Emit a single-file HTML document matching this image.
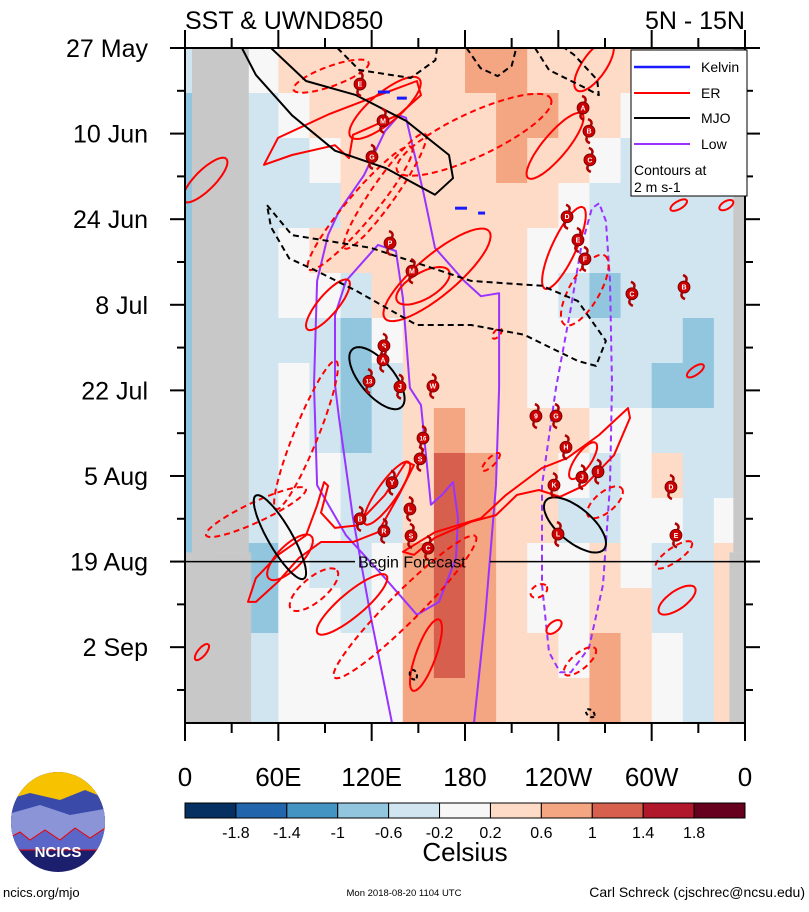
<!DOCTYPE html>
<html><head><meta charset="utf-8">
<style>
html,body{margin:0;padding:0;background:#fff;}
body{width:809px;height:907px;overflow:hidden;font-family:"Liberation Sans",sans-serif;}
svg text{font-family:"Liberation Sans",sans-serif;}
</style></head>
<body>
<svg id="chart" width="809" height="907" viewBox="0 0 809 907" xmlns="http://www.w3.org/2000/svg">
  <rect width="809" height="907" fill="#fff"/>
  <text x="185" y="29" font-size="25">SST &amp; UWND850</text>
  <text x="745" y="29" font-size="25" text-anchor="end">5N - 15N</text>
  <g id="plot"></g>
  <g id="axes"></g>
  <g>
    <rect x="631" y="50" width="116" height="146" fill="#fff" stroke="#000" stroke-width="1"/>
    <line x1="634" y1="67" x2="690" y2="67" stroke="#1a1aff" stroke-width="2.5"/>
    <text x="701" y="72" font-size="14">Kelvin</text>
    <line x1="634" y1="93" x2="690" y2="93" stroke="#ff0000" stroke-width="2"/>
    <text x="701" y="98" font-size="14">ER</text>
    <line x1="634" y1="118" x2="690" y2="118" stroke="#000" stroke-width="2"/>
    <text x="701" y="123" font-size="14">MJO</text>
    <line x1="634" y1="144" x2="690" y2="144" stroke="#9933ff" stroke-width="2"/>
    <text x="701" y="149" font-size="14">Low</text>
    <text x="634" y="175" font-size="14">Contours at</text>
    <text x="634" y="192" font-size="14">2 m s-1</text>
  </g>
  <g id="cbar"></g>
  <text x="465" y="861" font-size="26" text-anchor="middle">Celsius</text>
  <g>
    <clipPath id="logoclip"><ellipse cx="58" cy="822" rx="47" ry="50"/></clipPath>
    <g clip-path="url(#logoclip)">
      <rect x="0" y="770" width="120" height="110" fill="#1b1f6e"/>
      <rect x="0" y="770" width="120" height="40" fill="#f7c200"/>
      <polygon points="5,800 30,793 60,800 85,790 110,800 110,830 5,835" fill="#3a4aa8"/>
      <polygon points="5,815 40,805 70,815 110,808 110,840 5,845" fill="#8c94d8"/>
      <polygon points="5,840 20,832 30,840 45,830 60,840 75,828 90,838 110,825 110,850 5,850" fill="#5a67c8" stroke="#e00" stroke-width="1"/>
    </g>
    <text x="58" y="857" font-size="15" font-weight="bold" fill="#fff" text-anchor="middle">NCICS</text>
  </g>
  <text x="3" y="897" font-size="13">ncics.org/mjo</text>
  <text x="404" y="896" font-size="9.5" text-anchor="middle">Mon 2018-08-20 1104 UTC</text>
  <text x="805" y="897" font-size="14" text-anchor="end">Carl Schreck (cjschrec@ncsu.edu)</text>
</svg>
<script>
// ---- data ----
const lonEdges = [0,20,40,60,80,100,120,140,160,180,200,220,240,260,280,300,320,340,360];
const dayEdges = [0,7.36,14.72,22.08,29.44,36.8,44.16,51.52,58.88,66.24,73.6,80.96,88.32,95.68,103.04,110.4];
const sstRow0  = [-0.6,-0.6,-0.2,0.2,0.3,0.4,0.5,0.4,0.3,0.6,0.8,0.5,0.4,0.3,0.2,0,0,0];
const sstRow1  = [-0.8,-0.6,-0.4,-0.2,0.2,0.2,0.2,0.4,0.4,0.5,0.8,0.6,0.4,0.2,0,-0.2,-0.2,-0.2];
const sstRow2  = [-0.8,-0.6,-0.6,-0.4,-0.2,0.2,0.3,0.4,0.3,0.4,0.7,0.5,0.2,-0.2,-0.3,-0.2,-0.3,-0.3];
const sstRow3  = [-0.8,-0.6,-0.6,-0.4,-0.3,0.3,0.4,0.4,0.3,0.4,0.5,0.3,0,-0.3,-0.3,-0.3,-0.4,-0.4];
const sstRow4  = [-0.8,-0.6,-0.5,-0.2,0.2,0.3,0.5,0.4,0.4,0.4,0.3,0.1,-0.2,-0.4,-0.3,-0.4,-0.5,-0.4];
const sstRow5  = [-0.8,-0.6,-0.5,-0.2,0,-0.4,0.3,0.4,0.5,0.3,0.2,-0.2,-0.3,-0.8,-0.4,-0.5,-0.6,-0.5];
const sstRow6  = [-0.8,-0.6,-0.6,-0.3,-0.3,-0.8,0,0.4,0.3,0.3,0.3,0,-0.2,-0.4,-0.3,-0.6,-0.8,-0.6];
const sstRow7  = [-0.8,-0.6,-0.6,-0.2,-0.4,-1.0,-0.3,0.4,0.4,0.3,0.2,0,-0.2,-0.3,-0.3,-0.7,-1.0,-0.6];
const sstRow8  = [-0.8,-0.6,-0.4,0,-0.3,-0.8,-0.4,0.3,0.6,0.3,0.2,0.2,0.2,0,0.1,-0.3,-0.6,-0.3];
const sstRow9  = [-0.8,-0.6,-0.5,0,-0.2,-0.6,-0.3,0.4,1.0,0.6,0.2,0.3,-0.2,-0.3,0.1,0.2,-0.5,-0.3];
const sstRow10 = [-0.8,-0.6,-0.6,-0.2,-0.2,-0.5,-0.3,0.4,1.0,0.8,0.3,0.2,-0.3,-0.4,0.1,0,-0.3,-0.2];
const sstRow11 = [-0.8,-0.6,-0.8,-0.2,-0.3,-0.4,-0.2,0.6,1.0,0.6,0.2,0,-0.2,0.2,0,-0.3,-0.6,0.2];
const sstRow12 = [-0.8,-0.6,-0.8,-0.2,-0.2,-0.3,-0.2,0.6,1.2,0.8,0.3,0.1,-0.2,0.4,0.2,-0.3,-0.6,0.3];
const sstRow13 = [-0.8,-0.6,-0.6,0,0,-0.2,0,0.6,1.2,0.7,0.3,0.2,0,0.6,0.2,-0.2,-0.5,0.2];
const sstRow14 = [-0.8,-0.6,-0.4,0,0,-0.2,0,0.6,0.8,0.6,0.2,0.2,0.2,0.8,0.3,-0.2,-0.4,0.2];
const sstRows = [sstRow0,sstRow1,sstRow2,sstRow3,sstRow4,sstRow5,sstRow6,sstRow7,sstRow8,sstRow9,sstRow10,sstRow11,sstRow12,sstRow13,sstRow14];

const levelBounds = [-1.8,-1.4,-1,-0.6,-0.2,0.2,0.6,1,1.4,1.8];
const levelLabels = ["-1.8","-1.4","-1","-0.6","-0.2","0.2","0.6","1","1.4","1.8"];
const levelColors = ["#053061","#2166ac","#4393c3","#92c5de","#d1e5f0","#f7f7f7","#fddbc7","#f4a582","#d6604d","#b2182b","#67001f"];

const dateLabels = ["27 May","10 Jun","24 Jun","8 Jul","22 Jul","5 Aug","19 Aug","2 Sep"];
const dateDays = [0,14,28,42,56,70,84,98];
const lonTicks = [0,60,120,180,240,300,360];
const lonLabels = ["0","60E","120E","180","120W","60W","0"];
const forecastDay = 84;

// contours: ellipses [lon, day, semiA(deg), semiB(deg), angle]
const erSolidEllipses = [
  [128.6,9.8,28.9,9.6,-40],[12.9,21.6,19.3,6.4,-45],[263,2.9,19.3,7.7,-55],[237.9,16.0,27,7.7,-50],
  [243.6,32.7,28.9,7.7,-65],[162,37.1,43.7,12.9,-40],[153,38.9,19.3,8.4,-30],[91.9,42.0,20.6,6.4,-50],
  [317.4,25.7,6,2.5,-30],[348,25.7,5,2.5,-30],[328.1,52.8,6.4,2.6,-35],
  [255.9,67.5,14,5,-55],[129.9,72.8,24.4,6.4,-55],[67.5,83.3,19.3,7.7,-45],[107.4,91,28.9,7.7,-40],
  [154.9,99.3,24.4,6.4,-70],[316.3,90.3,14,5.8,-35],[237.2,94.7,5.8,3.2,-40],[10.9,98.8,6.4,2.6,-50]
];
const erDashedEllipses = [
  [93.9,4.6,25.7,6.4,-20],[112.5,26.2,51.4,9,-50],[128.6,23.4,45,7.7,-55],[185.8,14.2,54.6,14.1,-25],
  [257,39.6,25.7,9.6,-60],[200.6,46.7,4,2,-50],[45.6,75.9,35.4,6.4,-25],[77.8,63.3,51.4,7.7,-68],
  [82.9,88.6,19.3,7.7,-40],[141.4,91.4,64.3,9.6,-45],[314.3,82.9,14,4.5,-35],[270,74.3,14,6.4,-40],
  [253.9,100.3,12.9,5.1,-40],[227.5,88.8,5.8,3.8,-30],[196.7,67.7,7.7,2.6,-45]
];
const mjoSolidEllipses = [[123.4,54.0,24.4,10.9,50],[61,80.0,30.9,7.7,60],[250.7,78.0,24.4,10.9,40]];
const mjoDashedEllipses = [[146.8,102.5,3.2,2.2,70],[260.5,108.8,3.2,2,40]];
// polylines [lon, day]
const erBandLeft = [[40.5,90.6],[45.6,86.7],[59.8,82.9],[77.8,79.7],[84.9,74.8],[89.4,71.0],[92,71.6],[87.4,76.0],[96.4,78.5],[109.9,78.1],[128.6,73.1],[142.1,67.7],[147.2,68.2],[137.6,73.1],[124.1,79.2],[108,80.8],[87.4,80.8],[73.3,83.4],[59.8,87.3],[45.6,90.6]];
const erBandRight = [[140.1,82.4],[160.7,79.2],[190.3,76.9],[206.4,73.1],[229.5,68.7],[245.6,67.1],[266.2,63.3],[284.8,58.9],[286.1,60.5],[275.8,66.6],[257.1,71.5],[241.1,73.4],[227.6,72.3],[213.4,73.1],[199.9,76.4],[183.9,77.5],[160.7,80.1],[147.2,82.9]];
const erTopLeft = [[50.8,19.1],[59.8,14.7],[91.9,10.9],[119.6,8.2],[149.1,5.4],[151.7,7.7],[137.6,10.9],[108,14.2],[105.4,18.0],[96.4,15.9],[68.8,17.5]];
const mjoTopLeft = [[36.6,0],[45.6,4.4],[68.8,11.0],[96.4,16.8],[128.6,19.6],[160.7,24.0],[172.3,21.3],[169.7,17.5],[142.1,11.9],[109.9,7.7],[77.8,5.4],[55.3,0]];
const mjoBand = [[52.7,25.7],[68.8,30.6],[119.6,32.7],[183.9,38.1],[229.5,38.9],[252.6,41.4],[270.6,47.9],[264.2,52],[252.6,51.2],[217.9,46.9],[183.9,45.3],[149.1,45.3],[109.9,39.7],[84.9,36.5],[66.9,34.4],[55.3,29.3]];
const mjoArc1 = [[98,0],[112,3.6],[145,4.9],[161,2],[162,0]];
const mjoArc2 = [[181,0],[190,3.3],[201,4.6],[210,2.9],[213,0]];
const mjoArc3 = [[225,0],[234,3.6],[257,6.5],[266,7.7],[265,5.2],[250,1.1],[244,0]];
const lowSolid = [[133.1,110.4],[119.6,93.2],[108,76.9],[99,60.5],[96.4,55.1],[96.4,43.7],[103.5,38.1],[124.1,32.2],[135.6,33.2],[140.1,40.9],[144.6,55.6],[151.7,58.4],[158.1,74.7],[165.2,73.1],[172.3,71.0],[175.5,76.9],[174.2,83.4],[163.3,90.6],[149.1,92.7],[128.6,86.7],[103.5,79.7],[84.9,71.5],[82.9,55.1],[84.9,38.1],[91.9,30.6],[99,26.7],[115.1,20.8],[128.6,13.6],[137.6,11.0],[142.1,11.4],[153.6,24.0],[160.7,32.7],[179.4,38.1],[190.3,40.6],[201.9,40.1],[201.9,55.6],[199.9,71.5],[192.9,93.2],[185.8,110.4]];
const lowDashed = [[266.2,25.4],[261.6,26.2],[254.6,32.7],[248.1,42.5],[238.5,55.6],[229.5,71.5],[229.5,87.8],[234,98.8],[241.1,102.1],[248.1,102.1],[259.7,98.1],[268.7,87.8],[273.2,71.5],[274.5,55.1],[273.2,38.1],[270.6,28.3],[266.2,25.4]];
const kelvinSegs = [[124,131.7,7.2],[136.2,142.6,8.2],[173.6,181.3,26.2],[188.4,192.9,27]];

const stormLon = [112.5,127.3,120.2,131.8,145.9,127.9,127.3,118.3,138.2,159.4,255.9,259.7,260.3,245.6,252.6,257.1,287.3,320.8,225.6,238.5,153,151.1,244.9,133.1,255.2,265.5,237.2,144.6,312.4,112.5,127.9,145.3,239.8,156.2,315.6];
const stormDay = [5.9,11.9,17.8,31.9,36.5,48.7,51.0,54.5,55.4,55.3,9.8,13.6,18.3,27.6,31.4,34.5,40.2,39.1,60.2,60.2,63.8,67.2,65.3,71.1,70.2,69.3,71.5,75.4,71.8,77.0,79.0,79.8,79.5,81.8,79.7];
const stormLabel = ["E","M","G","P","M","S","A","13","J","W","A","B","C","D","E","F","C","B","9","G","16","S","H","Y","J","I","K","L","D","B","R","S","L","C","E"];

// ---- scales ----
const X0=185,X1=745,Y0=48,PXDAY=6.114;
const xs = lon => X0 + (lon/360)*(X1-X0);
const ys = d => Y0 + d*PXDAY;
const pxDeg = (X1-X0)/360;
const NS="http://www.w3.org/2000/svg";
function mk(tag, parent, attrs){const e=document.createElementNS(NS,tag);for(const k in attrs)e.setAttribute(k,attrs[k]);parent.appendChild(e);return e;}
function colorFor(v){let i=0;while(i<levelBounds.length&&v>=levelBounds[i])i++;return levelColors[i];}

const plot=document.getElementById('plot');
const clip=mk('clipPath',plot,{id:'pclip'});
mk('rect',clip,{x:X0,y:Y0,width:X1-X0,height:ys(110.4)-Y0});
const g=mk('g',plot,{'clip-path':'url(#pclip)'});

// heatmap
sstRows.forEach((row,r)=>{
  row.forEach((v,c)=>{
    const cell=mk('rect',g,{x:xs(lonEdges[c]),y:ys(dayEdges[r]),width:xs(lonEdges[c+1])-xs(lonEdges[c])+0.5,height:ys(dayEdges[r+1])-ys(dayEdges[r])+0.5,fill:colorFor(v)});
    
    
  });
});
// land masks
[[4.5,41,0,82.5],[0,42.5,82.5,110.4],[352.5,360,0,82.5],[350,360,82.5,110.4]].forEach(m=>{
  const lm=mk('rect',g,{x:xs(m[0]),y:ys(m[2]),width:xs(m[1])-xs(m[0]),height:ys(m[3])-ys(m[2]),fill:'#c8c8c8'});
  
  
});

function ellipsePts(e){
  const cx=xs(e[0]),cy=ys(e[1]),a=e[2]*pxDeg,b=e[3]*pxDeg,t=e[4]*Math.PI/180;
  const pts=[];
  for(let i=0;i<=48;i++){const u=i/48*2*Math.PI;const px=a*Math.cos(u),py=b*Math.sin(u);
    pts.push((cx+px*Math.cos(t)-py*Math.sin(t)).toFixed(1)+','+(cy+px*Math.sin(t)+py*Math.cos(t)).toFixed(1));}
  return pts.join(' ');
}
function polyPts(arr){return arr.map(p=>xs(p[0]).toFixed(1)+','+ys(p[1]).toFixed(1)).join(' ');}
function drawEll(list,color,dash,name){
  list.forEach(e=>{const el=mk('polyline',g,{points:ellipsePts(e),fill:'none',stroke:color,'stroke-width':2,'stroke-dasharray':dash});
    
    });
}
function drawPoly(arr,color,dash,closed,name){
  const el=mk(closed?'polygon':'polyline',g,{points:polyPts(arr),fill:'none',stroke:color,'stroke-width':2,'stroke-dasharray':dash,'stroke-linejoin':'round'});
  
  
}
drawPoly(lowSolid,'#9933ff','',false,'low-contour');
drawPoly(lowDashed,'#9933ff','6 4',true,'low-contour-dashed');
drawEll(erSolidEllipses,'#ff0000','','er-contour');
drawEll(erDashedEllipses,'#ff0000','6 4','er-contour-dashed');
drawPoly(erBandLeft,'#ff0000','',true,'er-contour');
drawPoly(erBandRight,'#ff0000','',true,'er-contour');
drawPoly(erTopLeft,'#ff0000','',true,'er-contour');
drawEll(mjoSolidEllipses,'#000','','mjo-contour');
drawEll(mjoDashedEllipses,'#000','4 3','mjo-contour-dashed');
drawPoly(mjoTopLeft,'#000','',false,'mjo-contour');
drawPoly(mjoBand,'#000','6 4',true,'mjo-contour-dashed');
drawPoly(mjoArc1,'#000','6 4',false,'mjo-contour-dashed');
drawPoly(mjoArc2,'#000','6 4',false,'mjo-contour-dashed');
drawPoly(mjoArc3,'#000','6 4',false,'mjo-contour-dashed');
kelvinSegs.forEach(k=>{const el=mk('line',g,{x1:xs(k[0]),x2:xs(k[1]),y1:ys(k[2]),y2:ys(k[2]),stroke:'#1a1aff','stroke-width':3});
  
  });

// storms
stormLon.forEach((lon,i)=>{
  const cx=xs(lon),cy=ys(stormDay[i]);
  const sg=mk('g',g,{});
  
  
  mk('path',sg,{d:`M${cx+2},${cy-6} q2,-4 -3,-6 M${cx-2},${cy+6} q-2,4 3,6`,stroke:'#b00000','stroke-width':2.5,fill:'none'});
  mk('circle',sg,{cx:cx,cy:cy,r:6,fill:'#cc0000',stroke:'#600','stroke-width':0.8});
  const t=mk('text',sg,{x:cx,y:cy+2.5,'font-size':stormLabel[i].length>1?6:7,'font-weight':'bold',fill:'#fff','text-anchor':'middle'});
  t.textContent=stormLabel[i];
});

// forecast line
const fy=ys(forecastDay);
const fl1=mk('line',g,{x1:X0,x2:355,y1:fy,y2:fy,stroke:'#000','stroke-width':1.5});


const fl2=mk('line',g,{x1:490,x2:X1,y1:fy,y2:fy,stroke:'#000','stroke-width':1.5});


const ft=mk('text',g,{x:358,y:fy+6,'font-size':16});
ft.textContent='Begin Forecast';



// axes
const ax=document.getElementById('axes');
const YB=ys(110.4);
mk('rect',ax,{x:X0,y:Y0,width:X1-X0,height:YB-Y0,fill:'none',stroke:'#000','stroke-width':2});
for(let d=0;d<=110;d+=7){
  const major=(d%14===0);const L=major?15:8;const y=ys(d);
  mk('line',ax,{x1:X0-L,x2:X0,y1:y,y2:y,stroke:'#000','stroke-width':2});
  mk('line',ax,{x1:X1,x2:X1+L,y1:y,y2:y,stroke:'#000','stroke-width':2});
}
dateLabels.forEach((lab,i)=>{
  const t=mk('text',ax,{x:148,y:ys(dateDays[i])+9,'font-size':25,'text-anchor':'end'});
  t.textContent=lab;
  
  
});
for(let lon=0;lon<=360;lon+=30){
  const major=(lon%60===0);const L=major?18:10;const x=xs(lon);
  mk('line',ax,{x1:x,x2:x,y1:YB,y2:YB+L,stroke:'#000','stroke-width':2});
  mk('line',ax,{x1:x,x2:x,y1:Y0-L,y2:Y0,stroke:'#000','stroke-width':2});
}
lonTicks.forEach((lon,i)=>{
  const t=mk('text',ax,{x:xs(lon),y:786,'font-size':26,'text-anchor':'middle'});
  t.textContent=lonLabels[i];
  
  
});

// colorbar
const cb=document.getElementById('cbar');
const bw=(X1-X0)/levelColors.length;
levelColors.forEach((c,i)=>{
  const r=mk('rect',cb,{x:X0+i*bw,y:803,width:bw,height:15,fill:c,stroke:'#000','stroke-width':1});
  
  
});
levelLabels.forEach((l,i)=>{
  const t=mk('text',cb,{x:X0+(i+1)*bw,y:838,'font-size':16,'text-anchor':'middle'});
  t.textContent=l;
  
  
});
</script>
</body></html>
